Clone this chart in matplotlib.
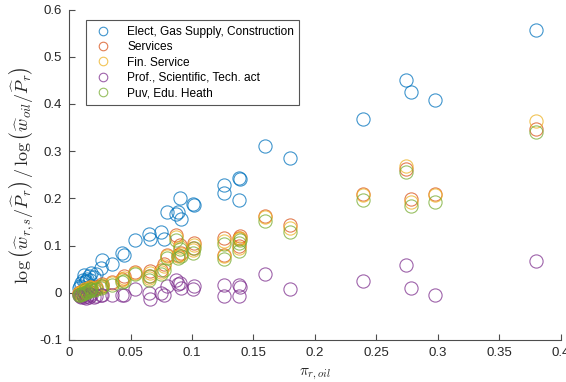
import matplotlib
matplotlib.use("Agg")
import matplotlib.pyplot as plt

plt.rcParams['font.family'] = ['Liberation Sans', 'DejaVu Sans']
plt.rcParams['mathtext.fontset'] = 'cm'

# oil share per region and sector responses
pi_oil = [0.380, 0.298, 0.278, 0.274, 0.239, 0.180, 0.159, 0.139, 0.138, 0.138,
          0.126, 0.126, 0.102, 0.101, 0.091, 0.090, 0.087, 0.089, 0.080, 0.077,
          0.075, 0.066, 0.065, 0.054, 0.045, 0.043, 0.035, 0.027, 0.026, 0.022,
          0.020, 0.018, 0.016, 0.015, 0.014, 0.012, 0.011, 0.010, 0.009, 0.008,
          0.013, 0.017]
elect = [0.557, 0.409, 0.426, 0.451, 0.368, 0.286, 0.310, 0.240, 0.243, 0.197,
         0.228, 0.211, 0.187, 0.189, 0.157, 0.201, 0.166, 0.171, 0.171, 0.114,
         0.128, 0.114, 0.125, 0.111, 0.080, 0.085, 0.062, 0.070, 0.053, 0.040,
         0.033, 0.042, 0.036, 0.030, 0.025, 0.038, 0.028, 0.020, 0.015, 0.010,
         0.022, 0.028]
services = [0.347, 0.209, 0.199, 0.262, 0.210, 0.143, 0.162, 0.120, 0.116, 0.100,
            0.115, 0.081, 0.106, 0.095, 0.085, 0.102, 0.123, 0.080, 0.081, 0.060,
            0.049, 0.046, 0.035, 0.044, 0.035, 0.030, 0.022, 0.018, 0.014, 0.012,
            0.010, 0.011, 0.008, 0.006, 0.005, 0.004, 0.003, 0.002, 0.001, 0.000,
            0.009, 0.013]
fin = [0.363, 0.207, 0.193, 0.268, 0.208, 0.138, 0.160, 0.117, 0.113, 0.095,
       0.110, 0.078, 0.101, 0.090, 0.082, 0.097, 0.118, 0.078, 0.077, 0.056,
       0.045, 0.042, 0.032, 0.042, 0.032, 0.028, 0.020, 0.017, 0.012, 0.010,
       0.009, 0.010, 0.007, 0.005, 0.004, 0.003, 0.002, 0.001, 0.000, -0.001,
       0.008, 0.012]
prof = [0.068, -0.004, 0.011, 0.058, 0.026, 0.008, 0.039, 0.013, 0.016, -0.006,
        0.016, -0.006, 0.014, 0.008, 0.011, 0.021, 0.028, 0.018, 0.014, -0.004,
        0.000, -0.013, 0.000, 0.007, -0.004, -0.004, -0.004, -0.004, -0.005, -0.006,
        -0.008, -0.004, -0.010, -0.006, -0.011, -0.008, -0.005, -0.009, -0.006, -0.004,
        -0.003, -0.002]
public = [0.340, 0.193, 0.183, 0.255, 0.197, 0.128, 0.153, 0.111, 0.106, 0.088,
          0.104, 0.072, 0.095, 0.085, 0.077, 0.092, 0.112, 0.074, 0.074, 0.049,
          0.040, 0.035, 0.028, 0.040, 0.025, 0.022, 0.017, 0.015, 0.010, 0.008,
          0.006, 0.007, 0.004, 0.002, 0.001, 0.000, -0.002, -0.003, -0.004, -0.005,
          0.005, 0.009]

series = [elect, services, fin, prof, public]
labels = ['Elect, Gas Supply, Construction', 'Services', 'Fin. Service',
          'Prof., Scientific, Tech. act', 'Puv, Edu. Heath']
colors = ['#0072BD', '#D95319', '#EDB120', '#7E2F8E', '#77AC30']

fig = plt.figure(figsize=(5.66, 3.82), dpi=100)
ax = fig.add_axes([0.122, 0.110, 0.869, 0.865])

for vals, lab, col in zip(series, labels, colors):
    ax.plot(pi_oil, vals, linestyle='none', marker='o', markersize=9.5,
            markerfacecolor='none', markeredgecolor=col, markeredgewidth=0.8,
            alpha=0.75, label=lab)

ax.set_xlim(0, 0.4)
ax.set_ylim(-0.1, 0.6)
ax.set_xticks([0, 0.05, 0.1, 0.15, 0.2, 0.25, 0.3, 0.35, 0.4])
ax.set_xticklabels(['0', '0.05', '0.1', '0.15', '0.2', '0.25', '0.3', '0.35', '0.4'])
ax.set_yticks([-0.1, 0, 0.1, 0.2, 0.3, 0.4, 0.5, 0.6])
ax.set_yticklabels(['-0.1', '0', '0.1', '0.2', '0.3', '0.4', '0.5', '0.6'])

for side in ['top', 'right']:
    ax.spines[side].set_visible(False)
for side in ['left', 'bottom']:
    ax.spines[side].set_color('#4d4d4d')
    ax.spines[side].set_linewidth(0.8)
ax.tick_params(direction='in', length=4, width=0.8, colors='#4d4d4d',
               labelcolor='#262626', labelsize=9.5, pad=5)

ax.set_xlabel(r'$\pi_{r,oil}$', fontsize=11, color='#262626', labelpad=6)
ax.set_ylabel(r'$\log\left(\widehat{w}_{r,s}/\widehat{P}_r\right)\,/\,\log\left(\widehat{w}_{oil}/\widehat{P}_r\right)$',
              fontsize=13, color='#262626', labelpad=2)

leg = ax.legend(loc='upper left', bbox_to_anchor=(0.022, 0.985), fontsize=8.6,
                fancybox=False, framealpha=1, edgecolor='#555555',
                markerscale=0.65, handlelength=2.0, handletextpad=1.0,
                borderpad=0.45, labelspacing=0.28)
leg.get_frame().set_linewidth(0.8)

fig.savefig('out.png', dpi=100)
